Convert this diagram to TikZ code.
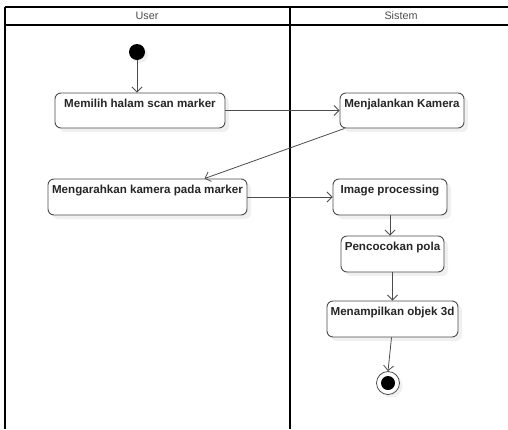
\documentclass[tikz,border=0pt]{standalone}
\usepackage{fontspec}
\setmainfont{Liberation Sans}
\usetikzlibrary{arrows.meta,shadows}
\begin{document}
\begin{tikzpicture}[x=1pt,y=-1pt,
  actbox/.style={draw=black!70, line width=0.9pt, rounded corners=6pt, fill=white,
    drop shadow={opacity=0.12, shadow xshift=4pt, shadow yshift=-4pt}},
  acttext/.style={font=\bfseries\fontsize{11.6}{13}\selectfont, text=black!85, inner sep=0pt},
  flow/.style={draw=black!70, line width=0.8pt, -{Straight Barb[length=5pt,width=10pt]}},
  lane/.style={draw=black, line width=1.6pt},
  hdr/.style={font=\fontsize{10.8}{12}\selectfont, text=black!70}]
\useasboundingbox (0,0) rectangle (508,429);
% swimlanes
\draw[lane] (5,7) -- (508,7);
\draw[draw=black, line width=1.1pt] (5,25) -- (508,25);
\draw[lane] (5,7) -- (5,429);
\draw[lane] (290,7) -- (290,429);
\node[hdr] (huser) at (147,16) {User};
\node[hdr] (hsis) at (401,16) {Sistem};
% start
\node[circle, fill=black, minimum size=16pt, inner sep=0pt,
  drop shadow={opacity=0.12, shadow xshift=3pt, shadow yshift=-3pt}] (start) at (137,52) {};
% activities
\node[actbox, minimum width=170pt, minimum height=35pt,
  label={[acttext, anchor=north, yshift=-6pt]north:Memilih halam scan marker}] (b1) at (140,110.5) {};
\node[actbox, minimum width=124pt, minimum height=35pt,
  label={[acttext, anchor=north, yshift=-6pt]north:Menjalankan Kamera}] (b2) at (402,110.5) {};
\node[actbox, minimum width=199pt, minimum height=36pt,
  label={[acttext, anchor=north, yshift=-6pt]north:Mengarahkan kamera pada marker}] (b3) at (147.5,197) {};
\node[actbox, minimum width=114pt, minimum height=36pt,
  label={[acttext, anchor=north, yshift=-6pt]north:Image processing}] (b4) at (390,197) {};
\node[actbox, minimum width=103pt, minimum height=36pt,
  label={[acttext, anchor=north, yshift=-6pt]north:Pencocokan pola}] (b5) at (392.5,254) {};
\node[actbox, minimum width=131pt, minimum height=36pt,
  label={[acttext, anchor=north, yshift=-6pt]north:Menampilkan objek 3d}] (b6) at (392.5,319) {};
% end
\node[circle, draw=black!70, line width=0.8pt, fill=white, minimum size=23pt, inner sep=0pt,
  drop shadow={opacity=0.12, shadow xshift=3pt, shadow yshift=-3pt}] (end) at (388,383) {};
\node[circle, fill=black, minimum size=14pt, inner sep=0pt] (endin) at (end.center) {};
% flows
\draw[flow] (start) -- (b1.north -| start);
\draw[flow] (b1.east) -- (b2.west);
\draw[flow] ([xshift=5pt]b2.south west) -- ([xshift=57pt]b3.north);
\draw[flow] (b3.east) -- (b4.west);
\draw[flow] (b4.south) -- (b4.south |- b5.north);
\draw[flow] (b5.south) -- (b6.north);
\draw[flow] ([xshift=-1pt]b6.south) -- (end.north);
\end{tikzpicture}
\end{document}
